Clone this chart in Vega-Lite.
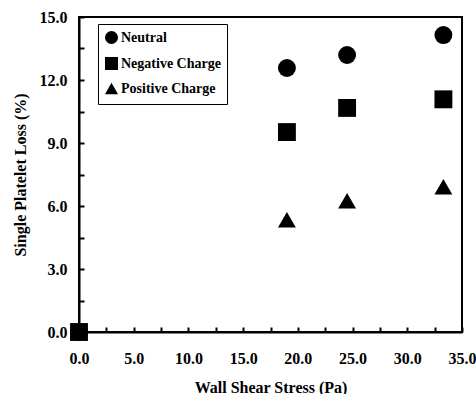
{
  "$schema": "https://vega.github.io/schema/vega-lite/v6.json",
  "width": 383,
  "height": 315,
  "autosize": {"type": "none"},
  "padding": {"left": 79, "top": 17, "right": 14, "bottom": 62},
  "background": "white",
  "config": {
    "view": {"stroke": "black", "strokeWidth": 2},
    "font": "Liberation Serif",
    "axis": {"labelFont": "Liberation Serif", "labelFontSize": 16, "labelFontWeight": "bold", "labelColor": "black"}
  },
  "data": {
    "values": [
      {"stress": 0, "loss": 0, "group": "Neutral"},
      {"stress": 19, "loss": 12.57, "group": "Neutral"},
      {"stress": 24.5, "loss": 13.19, "group": "Neutral"},
      {"stress": 33.3, "loss": 14.14, "group": "Neutral"},
      {"stress": 0, "loss": 0, "group": "Positive Charge"},
      {"stress": 19, "loss": 5.35, "group": "Positive Charge"},
      {"stress": 24.5, "loss": 6.25, "group": "Positive Charge"},
      {"stress": 33.3, "loss": 6.92, "group": "Positive Charge"},
      {"stress": 0, "loss": 0, "group": "Negative Charge"},
      {"stress": 19, "loss": 9.52, "group": "Negative Charge"},
      {"stress": 24.5, "loss": 10.67, "group": "Negative Charge"},
      {"stress": 33.3, "loss": 11.08, "group": "Negative Charge"}
    ]
  },
  "mark": {"type": "point", "filled": true, "opacity": 1, "color": "black", "size": 320, "clip": false},
  "encoding": {
    "x": {
      "field": "stress",
      "type": "quantitative",
      "scale": {"domain": [0, 35], "nice": false, "zero": false},
      "axis": {
        "title": "Wall Shear Stress (Pa)",
        "titleFont": "Liberation Serif",
        "titleFontSize": 16,
        "titleFontWeight": "bold",
        "titleColor": "black",
        "titlePadding": 13,
        "values": [0, 2.5, 5, 7.5, 10, 12.5, 15, 17.5, 20, 22.5, 25, 27.5, 30, 32.5, 35],
        "labelExpr": "datum.value % 5 === 0 ? format(datum.value, '.1f') : ''",
        "labelFont": "Liberation Serif",
        "labelFontSize": 16,
        "labelFontWeight": "bold",
        "labelColor": "black",
        "labelPadding": 23,
        "labelFlush": false,
        "labelOverlap": false,
        "grid": false,
        "domainColor": "black",
        "domainWidth": 2,
        "tickColor": "black",
        "tickWidth": 2,
        "tickSize": -5
      }
    },
    "y": {
      "field": "loss",
      "type": "quantitative",
      "scale": {"domain": [0, 15], "nice": false, "zero": false},
      "axis": {
        "title": "Single Platelet Loss (%)",
        "titleFont": "Liberation Serif",
        "titleFontSize": 16,
        "titleFontWeight": "bold",
        "titleColor": "black",
        "titleX": -51,
        "titleY": 157.5,
        "titleAngle": 270,
        "titleAlign": "center",
        "titleBaseline": "bottom",
        "values": [0, 1.5, 3, 4.5, 6, 7.5, 9, 10.5, 12, 13.5, 15],
        "labelExpr": "datum.value % 3 === 0 ? format(datum.value, '.1f') : ''",
        "labelFont": "Liberation Serif",
        "labelFontSize": 16,
        "labelFontWeight": "bold",
        "labelColor": "black",
        "labelPadding": 17,
        "labelFlush": false,
        "labelOverlap": false,
        "grid": false,
        "domainColor": "black",
        "domainWidth": 2,
        "tickColor": "black",
        "tickWidth": 2,
        "tickSize": -5
      }
    },
    "shape": {
      "field": "group",
      "type": "nominal",
      "scale": {
        "domain": ["Neutral", "Negative Charge", "Positive Charge"],
        "range": ["circle", "square", "triangle-up"]
      },
      "legend": {
        "title": null,
        "orient": "none",
        "legendX": 19,
        "legendY": 7,
        "strokeColor": "black",
        "fillColor": "white",
        "padding": 6,
        "symbolSize": 170,
        "symbolFillColor": "black",
        "symbolStrokeColor": "black",
        "symbolType": "circle",
        "labelFont": "Liberation Serif",
        "labelFontSize": 14,
        "labelFontWeight": "bold",
        "labelColor": "black",
        "labelOffset": 2,
        "rowPadding": 5
      }
    }
  }
}
